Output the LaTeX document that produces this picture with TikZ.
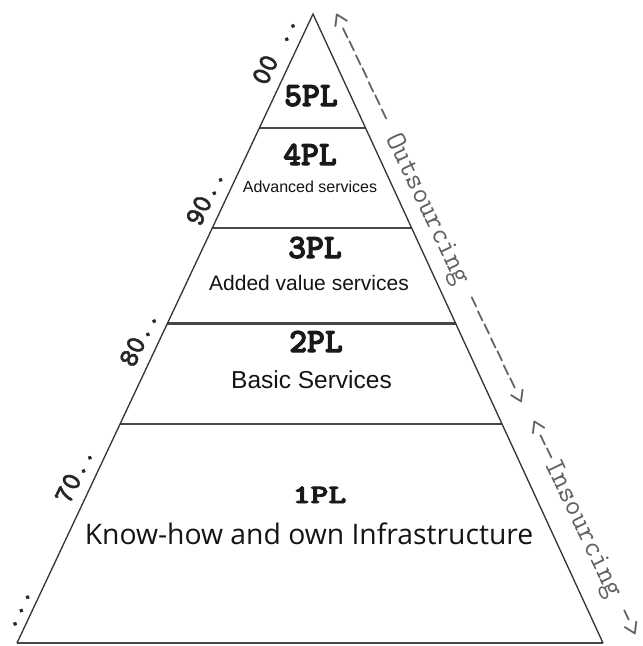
\documentclass[tikz,border=0pt]{standalone}
\usepackage{fontspec}
\setmainfont{Liberation Sans}
\newfontfamily\opensans{Open Sans}
\newfontfamily\ttbold{lmmonolt10-bold.otf}[FakeBold=3]
\newfontfamily\ttsemi{lmmonolt10-bold.otf}[FakeBold=1.5]
\usetikzlibrary{calc}
\begin{document}
\begin{tikzpicture}[x=1pt,y=-1pt,
  edge/.style={line width=1.3pt, draw=black!80, line join=miter},
  tier/.style={line width=2.4pt, draw=black!72},
  lvl/.style={font=\ttbold\fontsize{34}{34}\selectfont, text=black!90, inner sep=0pt, anchor=base},
  desc/.style={text=black!92, inner sep=0pt, anchor=base},
  era/.style={font=\ttsemi\fontsize{28}{28}\selectfont, text=black!85, inner sep=0pt, anchor=base west, rotate=64.8},
  flow/.style={font=\ttfamily\fontsize{29}{29}\selectfont, text=black!62, inner sep=0pt, anchor=base west, rotate=-64.5}]
\useasboundingbox[fill=white] (0,0) rectangle (643,646);
\coordinate (AP) at (313,14);
\coordinate (BL) at (17,643);
\coordinate (BR) at (603,643);
\coordinate (L1) at ($(AP)!0.18124!(BL)$);
\coordinate (R1) at ($(AP)!0.18124!(BR)$);
\coordinate (L2) at ($(AP)!0.34022!(BL)$);
\coordinate (R2) at ($(AP)!0.34022!(BR)$);
\coordinate (L3) at ($(AP)!0.49205!(BL)$);
\coordinate (R3) at ($(AP)!0.49205!(BR)$);
\coordinate (L4) at ($(AP)!0.65183!(BL)$);
\coordinate (R4) at ($(AP)!0.65183!(BR)$);
\draw[tier] (L1) -- (R1);
\draw[tier] (L2) -- (R2);
\draw[tier] (L3) -- (R3);
\draw[tier] (L4) -- (R4);
\draw[tier] (BL) -- (BR);
\draw[edge] (BL) -- (AP) -- (BR);
% levels
\node[lvl] (p5) at (311,106) {5PL};
\node[lvl] (p4) at (310,165) {4PL};
\node[desc, font=\fontsize{16}{16}\selectfont] (d4) at (310,192) {Advanced services};
\node[lvl] (p3) at (315,258) {3PL};
\node[desc, font=\fontsize{21}{21}\selectfont] (d3) at (309,290) {Added value services};
\node[lvl] (p2) at (316,352) {2PL};
\node[desc, font=\fontsize{24.5}{24.5}\selectfont] (d2) at (311.5,388) {Basic Services};
\node[lvl, yscale=0.78] (p1) at (319.5,503) {1PL};
\node[desc, font=\opensans\fontsize{28.3}{28.3}\selectfont] (d1) at (309,544) {Know-how and own Infrastructure};
% eras
\node[era] (e70) at (69.6,505.3) {70..};
\node[era] (e80) at (133.9,368.7) {80..};
\node[era] (e90) at (200.3,227.5) {90..};
\node[era] (e00) at (266.5,86.8) {00 ..};
\node[era] (e60) at (13.6,631.5) {...};
% flows
\node[flow] (out) at (327.7,16.6) {<{-}{-}{-}{-}{-}{-}{-} Outsourcing {-}{-}{-}{-}{-}{-}{-}>};
\node[flow] (in) at (525.2,423.7) {<{-}{-}Insourcing {-}>};
\end{tikzpicture}
\end{document}
